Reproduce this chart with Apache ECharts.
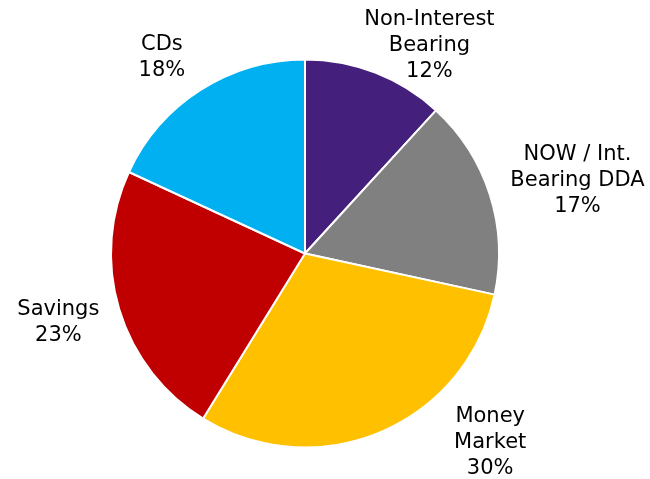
<!DOCTYPE html>
<html>
<head>
<meta charset="utf-8">
<script src="https://cdn.jsdelivr.net/npm/echarts@6/dist/echarts.min.js"></script>
<style>
  html, body { margin: 0; padding: 0; background: #ffffff; }
  #chart { width: 650px; height: 479px; }
</style>
</head>
<body>
<div id="chart"></div>
<script>
// ---- data ----
var categories = ['Non-Interest\nBearing', 'NOW / Int.\nBearing DDA', 'Money\nMarket', 'Savings', 'CDs'];
var shares = [11.8, 16.6, 30.4, 23.1, 18.1];

// ---- styling / layout ----
var colors = ['#44207C', '#808080', '#FFC000', '#C00000', '#00B0F0'];
var CX = 305, CY = 253.5, R = 194;
// label placement (like manually positioned data labels): angle turn (deg) from slice mid-angle, distance from centre (px)
var labelTurn = [9.7, 2.7, -21.3, 1.2, -3.5];
var labelDist = [242, 282, 265, 256, 243];

var total = shares.reduce(function (a, b) { return a + b; }, 0);
function midAngle(i) {
  var before = 0;
  for (var k = 0; k < i; k++) before += shares[k];
  return (before + shares[i] / 2) / total * 360;
}

var chart = echarts.init(document.getElementById('chart'), null, { renderer: 'canvas' });
chart.setOption({
  backgroundColor: '#ffffff',
  animation: false,
  color: colors,
  series: [{
    type: 'pie',
    center: [CX, CY],
    radius: [0, R],
    startAngle: 90,
    clockwise: true,
    percentPrecision: 0,
    avoidLabelOverlap: false,
    itemStyle: { borderColor: '#ffffff', borderWidth: 2 },
    label: {
      show: true,
      position: 'outside',
      formatter: '{b}\n{d}%',
      fontFamily: 'DejaVu Sans, Verdana, sans-serif',
      fontSize: 21,
      lineHeight: 26,
      color: '#000000',
      align: 'center'
    },
    labelLine: { show: false },
    labelLayout: function (params) {
      var i = params.dataIndex;
      var a = (midAngle(i) + labelTurn[i]) * Math.PI / 180;
      return {
        x: CX + labelDist[i] * Math.sin(a),
        y: CY - labelDist[i] * Math.cos(a),
        align: 'center',
        verticalAlign: 'middle'
      };
    },
    emphasis: { disabled: true },
    data: categories.map(function (c, i) { return { name: c, value: shares[i] }; })
  }]
});
</script>
</body>
</html>
